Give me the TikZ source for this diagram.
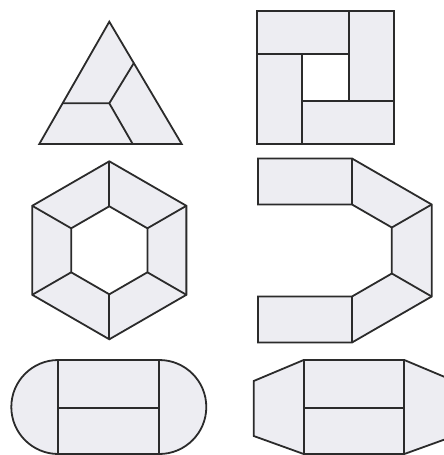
\documentclass[tikz,border=0pt]{standalone}
\usetikzlibrary{calc}
\definecolor{tilegray}{HTML}{EDEDF2}
\definecolor{edgegray}{HTML}{2B2B2B}

\begin{document}
\begin{tikzpicture}[x=1pt, y=-1pt, line join=miter,
    tile/.style={fill=tilegray, draw=edgegray, line width=1.8pt},
    seam/.style={draw=edgegray, line width=1.8pt}]
  \useasboundingbox (0,0) rectangle (444,455);
  \clip (0,0) rectangle (444,455);
  % Triangle split in three
  \draw[tile] (109.3,21.7) -- (181.7,144) -- (39.3,144) -- cycle;
  \draw[seam] (63,103.3) -- (109.3,103.3) -- (133.7,63.3) (109.3,103.3) -- (132.7,144);
  % Square with hole
  \draw[tile] (257,10.7) rectangle (393.7,144.3);
  \draw[seam, fill=white] (302,54.3) rectangle (348.7,100.7);
  \draw[seam] (257,54.3) -- (302,54.3) (348.7,10.7) -- (348.7,54.3)
    (302,100.7) -- (302,144.3) (348.7,100.7) -- (393.7,100.7);
  % Hexagon ring
  \begin{scope}[shift={(109.3,250.3)}]
    \draw[tile] (30:89) -- (90:89) -- (150:89) -- (210:89) -- (270:89) -- (330:89) -- cycle;
    \draw[seam, fill=white] (30:44) -- (90:44) -- (150:44) -- (210:44) -- (270:44) -- (330:44) -- cycle;
    \foreach \a in {30,90,...,330}
      \draw[seam] (\a:44) -- (\a:89);
  \end{scope}
  % Half ring with two arms
  \coordinate (arcc) at (352,250.5);
  \draw[tile] (258,158.5) -- (352,158.5) -- ($(arcc)+(-30:92)$) -- ($(arcc)+(30:92)$)
    -- (352,342.5) -- (258,342.5) -- (258,296.5) -- (352,296.5)
    -- ($(arcc)+(30:46)$) -- ($(arcc)+(-30:46)$) -- (352,204.5) -- (258,204.5) -- cycle;
  \draw[seam] (352,158.5) -- (352,204.5) (352,296.5) -- (352,342.5);
  \foreach \a in {-30,30}
    \draw[seam] ($(arcc)+(\a:46)$) -- ($(arcc)+(\a:92)$);
  % Rounded table
  \draw[tile] (58.3,360) -- (159.3,360) arc[start angle=-90, end angle=90, radius=47]
    -- (58.3,454) arc[start angle=90, end angle=270, radius=47] -- cycle;
  \draw[seam] (58.3,360) -- (58.3,454) (159.3,360) -- (159.3,454) (58.3,407.7) -- (159.3,407.7);
  % Cut-corner table
  \draw[tile] (303.7,360) -- (404.3,360) -- (454.3,381) -- (454.3,436) -- (404.3,454)
    -- (303.7,454) -- (253.7,436) -- (253.7,381) -- cycle;
  \draw[seam] (303.7,360) -- (303.7,454) (404.3,360) -- (404.3,454) (303.7,407.7) -- (404.3,407.7);
\end{tikzpicture}
\end{document}
